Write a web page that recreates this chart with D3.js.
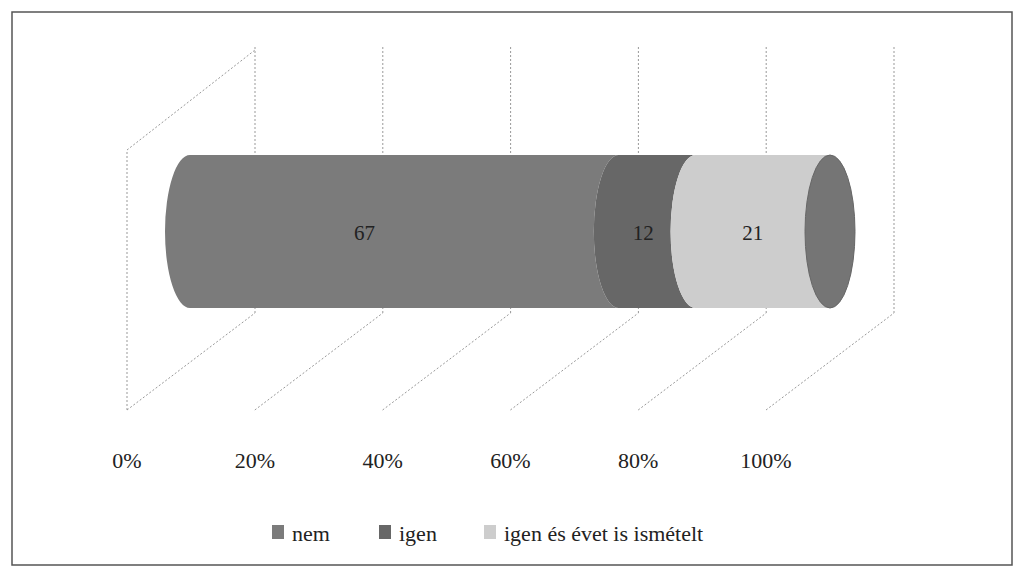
<!DOCTYPE html><html><head><meta charset="utf-8"><script src="https://cdn.jsdelivr.net/npm/d3@7"></script>
<style>body{margin:0;background:#fff}text{font-family:"Liberation Serif","DejaVu Serif",serif}</style></head><body><svg width="1024" height="577"></svg>
<script>
const categories=["nem","igen","igen és évet is ismételt"];
const values=[67,12,21];
const colors=["#7b7b7b","#676767","#cdcdcd"];
const ticks=[0,20,40,60,80,100];
const tickLabels=["0%","20%","40%","60%","80%","100%"];
(function(){
const svg=d3.select("svg");
svg.append("rect").attr("x",12).attr("y",12).attr("width",1000).attr("height",553).attr("fill","none").attr("stroke","#555").attr("stroke-width",1.5);
const xf=d3.scaleLinear().domain([0,100]).range([127,766]);
const dx=128,dy=-97;
const g=svg.append("g").attr("stroke","#999").attr("stroke-dasharray","2,2").attr("fill","none");
ticks.forEach(t=>{const x=xf(t);
 g.append("line").attr("x1",x).attr("y1",410).attr("x2",x+dx).attr("y2",410+dy);
 g.append("line").attr("x1",x+dx).attr("y1",410+dy).attr("x2",x+dx).attr("y2",47);});
g.append("line").attr("x1",127).attr("y1",410).attr("x2",127).attr("y2",150);
g.append("line").attr("x1",127).attr("y1",150).attr("x2",255).attr("y2",50);
const xc=d3.scaleLinear().domain([0,100]).range([190,830]);
const yT=155,yB=308,rx=25,ry=(yB-yT)/2,cy=(yT+yB)/2;
let cum=0;const segs=values.map((v,i)=>{const s={a:cum,b:cum+v,i};cum+=v;return s;});
const cg=svg.append("g");
segs.forEach(s=>{const x0=xc(s.a),x1=xc(s.b);
 cg.append("path").attr("d",`M${x0},${yT} L${x1},${yT} A${rx},${ry} 0 0 0 ${x1},${yB} L${x0},${yB} A${rx},${ry} 0 0 1 ${x0},${yT} Z`).attr("fill",colors[s.i]);});
cg.append("ellipse").attr("cx",xc(100)).attr("cy",cy).attr("rx",rx).attr("ry",ry).attr("fill","#757575").attr("stroke","#666");
const off=[-40,-14,-10];
segs.forEach(s=>{cg.append("text").attr("x",xc((s.a+s.b)/2)+off[s.i]).attr("y",cy+8).attr("text-anchor","middle").attr("font-size",21).attr("fill","#222").text(values[s.i]);});
ticks.forEach((t,i)=>svg.append("text").attr("x",xf(t)).attr("y",468).attr("text-anchor","middle").attr("font-size",22).attr("fill","#222").text(tickLabels[i]));
const lx=[272,379,484];
categories.forEach((c,i)=>{svg.append("rect").attr("x",lx[i]).attr("y",525).attr("width",12).attr("height",14).attr("fill",colors[i]);
 svg.append("text").attr("x",lx[i]+20).attr("y",541).attr("font-size",22).attr("fill","#222").text(c);});
})();
</script></body></html>
